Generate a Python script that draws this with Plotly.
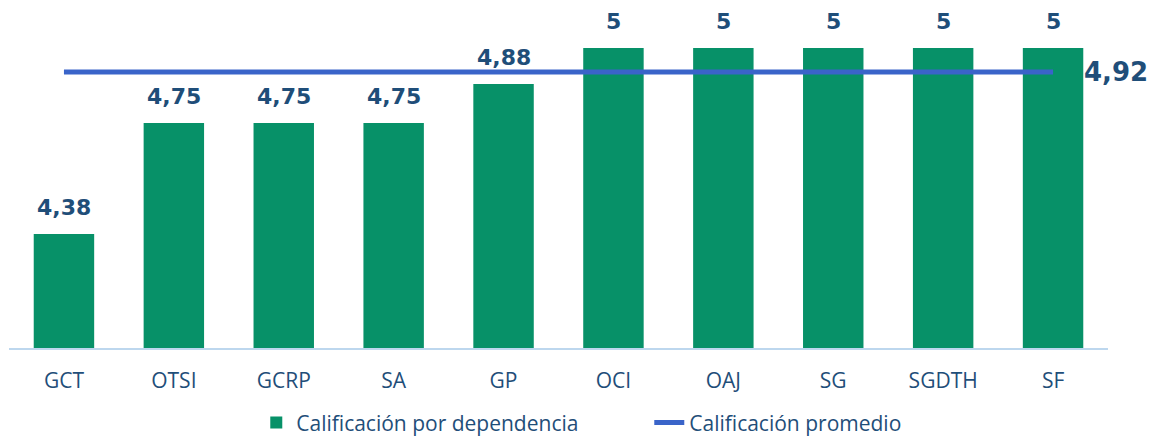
import plotly.graph_objects as go

categories = ["GCT", "OTSI", "GCRP", "SA", "GP", "OCI", "OAJ", "SG", "SGDTH", "SF"]
values = [4.38, 4.75, 4.75, 4.75, 4.88, 5, 5, 5, 5, 5]
value_labels = ["4,38", "4,75", "4,75", "4,75", "4,88", "5", "5", "5", "5", "5"]
average = 4.92
average_label = "4,92"

bar_color = "#079168"
line_color = "#3A64C9"
text_color = "#1F4E79"

fig = go.Figure()
fig.add_trace(go.Bar(
    x=categories, y=values, name="Calificación por dependencia",
    marker=dict(color=bar_color, line=dict(width=0)),
))
fig.add_trace(go.Scatter(
    x=categories, y=[average] * len(categories), mode="lines",
    name="Calificación promedio",
    line=dict(color=line_color, width=5),
))

for c, v, t in zip(categories, values, value_labels):
    fig.add_annotation(x=c, y=v, text=t, showarrow=False, yanchor="bottom", yshift=12,
                       font=dict(family="DejaVu Sans", size=22, color=text_color, weight="bold"))

fig.add_annotation(x=categories[-1], y=average, text=average_label, showarrow=False,
                   xanchor="left", xshift=29, yanchor="middle",
                   font=dict(family="DejaVu Sans", size=26, color=text_color, weight="bold"))

fig.update_layout(
    width=1158, height=436,
    margin=dict(l=1, r=58, t=0, b=96, autoexpand=False),
    paper_bgcolor="white", plot_bgcolor="white",
    bargap=0.45,
    showlegend=True,
    legend=dict(orientation="h", x=0.225, xanchor="left", y=-0.22, yanchor="middle",
                entrywidth=348, entrywidthmode="pixels",
                font=dict(family="Open Sans", size=21, color=text_color)),
    xaxis=dict(showline=True, linecolor="#BDD7EE", linewidth=2, showgrid=False,
               range=[-0.5, len(categories) - 0.5],
               ticks="", tickfont=dict(family="Open Sans", size=21, color=text_color),
               ticklabelstandoff=13),
    yaxis=dict(range=[4, 5.133], visible=False, showgrid=False),
)

fig.write_html("out.html")
